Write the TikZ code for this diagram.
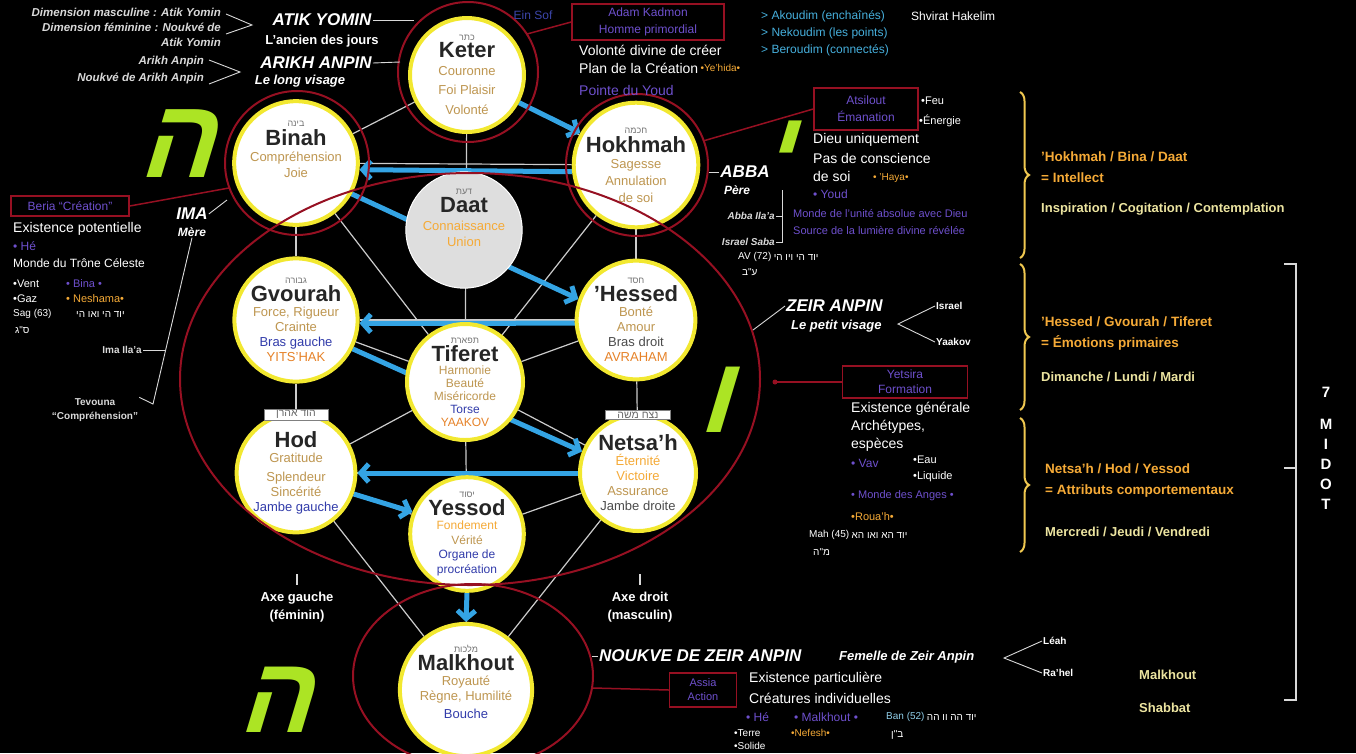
\documentclass[tikz,border=0pt]{standalone}
\usepackage{fontspec}
\setmainfont{Liberation Sans}
\newfontfamily\hebfont[Script=Hebrew]{Liberation Sans}
\newfontfamily\letterfont[Script=Hebrew]{Liberation Sans}
\TeXXeTstate=1
\usetikzlibrary{arrows.meta}
\usetikzlibrary{positioning}
\usetikzlibrary{decorations.pathreplacing}
\pgfdeclarelayer{back}
\pgfdeclarelayer{links}
\pgfsetlayers{back,links,main}

\definecolor{ringyellow}{RGB}{242,232,48}
\definecolor{innerkhaki}{RGB}{190,150,80}
\definecolor{ringred}{RGB}{150,16,34}
\definecolor{flashblue}{RGB}{52,164,228}
\definecolor{textviolet}{RGB}{110,80,205}
\definecolor{textcyan}{RGB}{70,175,220}
\definecolor{textorange}{RGB}{245,170,55}
\definecolor{bracegold}{RGB}{240,200,80}
\definecolor{lettergreen}{RGB}{172,228,36}
\definecolor{dayyellow}{RGB}{236,228,160}
\definecolor{armblue}{RGB}{50,60,170}
\definecolor{ancestor}{RGB}{230,130,40}
\definecolor{einsofblue}{RGB}{60,70,170}

\newcommand{\heb}[1]{{\hebfont\beginR#1\endR}}
\newcommand{\sefname}[1]{{\fontsize{22}{23}\selectfont\bfseries\color{black!85}#1}}
\newcommand{\hebtop}[1]{{\fontsize{9}{9}\selectfont\color{black!55}\heb{#1}}}

\tikzset{
  sefira/.style={circle, fill=white, draw=ringyellow, line width=4pt, minimum size=#1,
    inner sep=0pt, align=center, text=innerkhaki, font=\fontsize{13}{15}\selectfont},
  daatdisc/.style={circle, fill=black!13, draw=white, line width=1pt, minimum size=#1,
    inner sep=0pt, align=center, text=textorange, font=\fontsize{13}{15}\selectfont},
  hebtag/.style={fill=white, draw=black!50, line width=0.6pt, inner xsep=12pt, inner ysep=1.5pt,
    text=black!60, font=\fontsize{10.5}{10.5}\selectfont},
  treepath/.style={draw=white!80!black, line width=1.2pt},
  flash/.style={draw=flashblue, line width=5pt, -{Straight Barb[length=8pt,width=18pt]}},
  ring/.style={draw=ringred, line width=2pt},
  pointer/.style={draw=white!85!black, line width=0.9pt},
  worldbox/.style={draw=ringred, line width=1.5pt, text=textviolet, align=center,
    font=\fontsize{12}{17}\selectfont, inner sep=2pt},
  partzuf/.style={text=white, font=\fontsize{17}{18}\selectfont\bfseries\itshape, inner sep=1pt},
  partzufsub/.style={text=white, font=\fontsize{13}{14}\selectfont\bfseries\itshape, inner sep=1pt},
  note/.style={text=white, font=\fontsize{14}{16}\selectfont, inner sep=1pt, anchor=west},
  mini/.style={text=white, font=\fontsize{11}{12}\selectfont, inner sep=1pt, anchor=west},
  smallnote/.style={text=white!85!black, font=\fontsize{11.5}{15}\selectfont\bfseries\itshape, inner sep=1pt},
  midottitle/.style={text=textorange, font=\fontsize{13.5}{15}\selectfont\bfseries, inner sep=1pt, anchor=west},
  daytext/.style={text=dayyellow, font=\fontsize{13}{15}\selectfont\bfseries, inner sep=1pt, anchor=west},
  hebletter/.style={text=lettergreen, font=\letterfont\bfseries\fontsize{#1}{#1}\selectfont,
    inner sep=0pt, xslant=0.3, transform shape},
  midotbrace/.style={draw=bracegold, line width=2pt, decorate, decoration={brace, amplitude=9pt}}
}

\begin{document}
\begin{tikzpicture}[x=1pt,y=-1pt]
\useasboundingbox (0,0) rectangle (1356,753);
\begin{pgfonlayer}{back}
  \fill[black] (0,0) rectangle (1356,753);
\end{pgfonlayer}

% the sefirot
\node[sefira=114pt] (keter) at (467,75)
  {\hebtop{כתר}\\[1pt]\sefname{Keter}\\[3pt]Couronne\\[4pt]Foi Plaisir\\[5pt]Volonté};
\node[sefira=120pt] (binah) at (296,163)
  {\hebtop{בינה}\\[2pt]\sefname{Binah}\\[1pt]Compréhension\\[1pt]Joie\\[12pt]~};
\node[sefira=120pt] (hokhmah) at (636,165)
  {\hebtop{חכמה}\\[2pt]\sefname{Hokhmah}\\[1pt]Sagesse\\[2pt]Annulation\\[2pt]de soi};
\node[daatdisc=108pt] (daat) at (464,230)
  {\hebtop{דעת}\\[2pt]\sefname{Daat}\\[3pt]Connaissance\\[1pt]Union\\[10pt]~};
\node[sefira=116pt] (gvourah) at (296,320)
  {\hebtop{גבורה}\\[1pt]\sefname{Gvourah}\\Force, Rigueur\\Crainte\\{\color{armblue}Bras gauche}\\{\color{ancestor}YITS'HAK}};
\node[sefira=116pt] (hessed) at (636,320)
  {\hebtop{חסד}\\[1pt]\sefname{'Hessed}\\Bonté\\Amour\\{\color{black!70}Bras droit}\\{\color{ancestor}AVRAHAM}};
\node[sefira=116pt, font=\fontsize{12}{13}\selectfont] (tiferet) at (465,382)
  {\hebtop{תפארת}\\[1pt]\sefname{Tiferet}\\Harmonie\\Beauté\\Miséricorde\\{\color{armblue}Torse}\\{\color{ancestor}YAAKOV}};
\node[sefira=114pt] (hod) at (296,473)
  {\sefname{Hod}\\Gratitude\\[4pt]Splendeur\\Sincérité\\{\color{armblue}Jambe gauche}};
\node[sefira=116pt] (netsah) at (638,473)
  {\sefname{Netsa'h}\\{\color{textorange}Éternité}\\{\color{textorange}Victoire}\\Assurance\\{\color{black!70}Jambe droite}};
\node[sefira=110pt, font=\fontsize{12}{14.5}\selectfont] (yessod) at (467,534)
  {\hebtop{יסוד}\\[1pt]\sefname{Yessod}\\{\color{textorange}Fondement}\\Vérité\\{\color{armblue}Organe de}\\{\color{armblue}procréation}};
\node[sefira=120pt] (malkhout) at (466,690)
  {\hebtop{מלכות}\\[1pt]\sefname{Malkhout}\\Royauté\\Règne, Humilité\\[3pt]{\color{armblue}Bouche}\\[2pt]~};
\node[hebtag, below=-3pt of hod.north] (hodtag) {\heb{הוד אהרן}};
\node[hebtag, below=-3pt of netsah.north] (netsahtag) {\heb{נצח משה}};

% paths and lightning flash, behind the sefirot
\begin{pgfonlayer}{links}
  \foreach \a/\b in {keter/binah, keter/hokhmah, keter/tiferet, binah/hokhmah,
      binah/gvourah, hokhmah/hessed, binah/tiferet, hokhmah/tiferet, gvourah/hessed,
      gvourah/tiferet, hessed/tiferet, gvourah/hod, hessed/netsah, tiferet/hod,
      tiferet/netsah, tiferet/yessod, hod/netsah, hod/yessod, netsah/yessod,
      hod/malkhout, netsah/malkhout, yessod/malkhout}
    \draw[treepath] (\a) -- (\b);
  \draw[flash] (keter.-28) -- (hokhmah.150);
  \draw[flash] (hokhmah.186) -- (binah.354);
  \draw[flash] (binah.-29) -- (hessed.160);
  \draw[flash] (hessed.183) -- (gvourah.357);
  \draw[flash] (gvourah.-27) -- (netsah.159);
  \draw[flash] (netsah.west) -- (hod.east);
  \draw[flash] (hod.-20) -- (yessod.158);
  \draw[flash] (yessod.south) -- (malkhout.north);
\end{pgfonlayer}

% partzufim rings
\draw[ring] (468,72) circle[radius=70];
\draw[ring] (297,163) circle[radius=72];
\draw[ring] (637,165) circle[radius=71];
\draw[ring] (470,379) ellipse[x radius=290, y radius=206];
\draw[ring] (473,676) ellipse[x radius=120, y radius=92];

% the letters of the Name
\node[hebletter=112] (heupper) at (186,144) {\heb{ה}};
\node[hebletter=100] (yod) at (787,151) {\heb{י}};
\node[hebletter=108] (vav) at (724,400) {\heb{ו}};
\node[hebletter=108] (helower) at (284,700) {\heb{ה}};

% Atik Yomin and Arikh Anpin
\node[smallnote, align=right, anchor=east] (atikdims) at (222,27)
  {Dimension masculine : Atik Yomin\\Dimension féminine : Noukvé de\\Atik Yomin};
\node[partzuf] (atik) at (322,20) {ATIK YOMIN};
\node[partzufsub, font=\fontsize{13}{14}\selectfont\bfseries] (atiksub) at (322,41) {L'ancien des jours};
\node[smallnote, anchor=east] (arikhmale) at (205,62) {Arikh Anpin};
\node[smallnote, anchor=east] (arikhfemale) at (205,78) {Noukvé de Arikh Anpin};
\node[partzuf] (arikh) at (316,63) {ARIKH ANPIN};
\node[partzufsub] (arikhsub) at (300,81) {Le long visage};
\coordinate (atikfromA) at (226,14);
\coordinate (atikfromB) at (226,34);
\coordinate (atikjoin) at (252,25);
\coordinate (arikhfromA) at (209,60);
\coordinate (arikhfromB) at (209,84);
\coordinate (arikhjoin) at (240,72);
\coordinate (keterwestA) at (414,20);
\coordinate (keterwestB) at (400,62);
\draw[pointer] (atikfromA) -- (atikjoin) -- (atikfromB);
\draw[pointer] (arikhfromA) -- (arikhjoin) -- (arikhfromB);
\draw[pointer] (atik.east) -- (keterwestA);
\draw[pointer] (arikh.east) -- (keterwestB);

% Adam Kadmon and the worlds of Tohu
\node[text=einsofblue, font=\fontsize{12}{13}\selectfont] (einsof) at (533,15) {Ein Sof};
\node[worldbox, minimum width=152pt, minimum height=36pt] (kadmon) at (648,22) {Adam Kadmon\\Homme primordial};
\coordinate (keterhook) at (527,34);
\draw[ring, line width=1.5pt] (keterhook) -- (kadmon.west);
\node[note] (volonte) at (578,50) {Volonté divine de créer};
\node[note] (plan) at (578,68) {Plan de la Création};
\node[mini, text=textorange, font=\fontsize{10}{11}\selectfont] (yehida) at (plan.east) {•Ye'hida•};
\node[note, text=textviolet] (pointe) at (578,90) {Pointe du Youd};
\node[note, text=textcyan, font=\fontsize{12}{13}\selectfont] (akoudim) at (760,16) {> Akoudim (enchaînés)};
\node[note, text=textcyan, font=\fontsize{12}{13}\selectfont] (nekoudim) at (760,33) {> Nekoudim (les points)};
\node[note, text=textcyan, font=\fontsize{12}{13}\selectfont] (beroudim) at (760,50) {> Beroudim (connectés)};
\node[note, font=\fontsize{12}{13}\selectfont] (shvirat) at (910,16) {Shvirat Hakelim};

% Abba and the world of Atsilout
\node[worldbox, minimum width=104pt, minimum height=42pt] (atsilout) at (866,109) {Atsilout\\Émanation};
\coordinate (hokhmahhook) at (703,141);
\draw[ring, line width=1.5pt] (hokhmahhook) -- (atsilout.west);
\node[mini] (feu) at (920,101) {•Feu};
\node[mini] (energie) at (918,121) {•Énergie};
\node[note] (dieu) at (812,140) {Dieu uniquement};
\node[note] (conscience) at (812,158) {Pas de conscience};
\node[note] (desoi) at (812,176) {de soi};
\node[mini, text=textorange, font=\fontsize{10}{11}\selectfont] (haya) at (872,178) {• 'Haya•};
\node[note, text=textviolet, font=\fontsize{12}{13}\selectfont] (youd) at (812,194) {• Youd};
\node[mini, text=textviolet, align=left, font=\fontsize{11}{17}\selectfont] (atsdesc) at (792,222)
  {Monde de l'unité absolue avec Dieu\\Source de la lumière divine révélée};
\node[partzuf] (abba) at (745,172) {ABBA};
\node[partzufsub, font=\fontsize{12}{13}\selectfont\bfseries\itshape] (pere) at (737,190) {Père};
\coordinate (hokhmaheast) at (709,172);
\draw[pointer] (hokhmaheast) -- (abba.west);
\node[smallnote, anchor=east, font=\fontsize{10}{11}\selectfont\bfseries\itshape] (abbailaa) at (776,216) {Abba Ila'a};
\node[smallnote, anchor=east, font=\fontsize{10}{11}\selectfont\bfseries\itshape] (israelsaba) at (776,242) {Israel Saba};
\coordinate (abbabar) at (782,190);
\coordinate (abbabarend) at (782,242);
\draw[pointer] (abbabar) -- (abbabarend) -- (israelsaba.east);
\draw[pointer] (abbailaa.east) -- (abbabar |- abbailaa.east);
\node[mini, font=\fontsize{10}{11}\selectfont] (av) at (737,257) {AV (72)};
\node[mini, font=\fontsize{10}{11}\selectfont] (avname) at (av.east) {\heb{יוד הי ויו הי}};
\node[mini, font=\fontsize{10}{11}\selectfont] (avnum) at (741,272) {\heb{ע"ב}};

% Ima and the world of Beria
\node[worldbox, minimum width=118pt, minimum height=20pt, font=\fontsize{12}{13}\selectfont] (beria) at (70,206) {Beria ``Création''};
\coordinate (binahhook) at (229,188);
\draw[ring, line width=1.5pt] (beria.east) -- (binahhook);
\node[note] (potentielle) at (12,229) {Existence potentielle};
\node[note, text=textviolet, font=\fontsize{12}{13}\selectfont] (hebinah) at (12,246) {• Hé};
\node[note, font=\fontsize{12}{13}\selectfont] (trone) at (12,263) {Monde du Trône Céleste};
\node[mini] (vent) at (12,284) {•Vent};
\node[mini] (gaz) at (12,299) {•Gaz};
\node[mini, text=textviolet] (binahsoul) at (65,284) {• Bina •};
\node[mini, text=textorange] (neshama) at (65,299) {• Neshama•};
\node[mini, font=\fontsize{10}{11}\selectfont] (sag) at (12,314) {Sag (63)};
\node[mini, font=\fontsize{10}{11}\selectfont] (sagname) at (75,314) {\heb{יוד הי ואו הי}};
\node[mini, font=\fontsize{10}{11}\selectfont] (sagnum) at (14,330) {\heb{ס"ג}};
\node[partzuf] (ima) at (192,214) {IMA};
\node[partzufsub, font=\fontsize{12}{13}\selectfont\bfseries\itshape] (mere) at (192,232) {Mère};
\node[smallnote, anchor=east, font=\fontsize{10}{11}\selectfont\bfseries] (imailaa) at (143,350) {Ima Ila'a};
\node[smallnote, align=center, font=\fontsize{10}{14}\selectfont\bfseries] (tevouna) at (95,410) {Tevouna\\``Compréhension''};
\coordinate (imafoot) at (153,404);
\coordinate (imaknee) at (166,350);
\coordinate (binahwest) at (227,200);
\draw[pointer] (mere.south) -- (imafoot) -- (tevouna.north east);
\draw[pointer] (imailaa.east) -- (imaknee);
\draw[pointer] (ima.east) -- (binahwest);

% Zeir Anpin and the world of Yetsira
\coordinate (zeirhook) at (753,330);
\node[partzuf, anchor=west] (zeir) at (785,306) {ZEIR ANPIN};
\node[partzufsub, anchor=west] (zeirsub) at (790,326) {Le petit visage};
\draw[pointer] (zeirhook) -- (zeir.west);
\node[mini, font=\fontsize{10}{11}\selectfont\bfseries] (israel) at (935,306) {Israel};
\node[mini, font=\fontsize{10}{11}\selectfont\bfseries] (yaakov) at (935,342) {Yaakov};
\coordinate (zeirjoin) at (898,324);
\draw[pointer] (israel.west) -- (zeirjoin) -- (yaakov.west);
\node[worldbox, minimum width=125pt, minimum height=32pt, font=\fontsize{12}{15}\selectfont] (yetsira) at (905,382) {Yetsira\\Formation};
\coordinate (ellipsehook) at (775,382);
\fill[ringred] (ellipsehook) circle[radius=2.5];
\draw[ring, line width=1.2pt] (ellipsehook) -- (yetsira.west);
\node[note] (generale) at (850,409) {Existence générale};
\node[note] (archetypes) at (850,427) {Archétypes,};
\node[note] (especes) at (850,445) {espèces};
\node[note, text=textviolet, font=\fontsize{12}{13}\selectfont] (vavletter) at (850,463) {• Vav};
\node[mini] (eau) at (912,460) {•Eau};
\node[mini] (liquide) at (912,477) {•Liquide};
\node[mini, text=textviolet] (anges) at (850,496) {• Monde des Anges •};
\node[mini, text=textorange] (rouah) at (850,517) {•Roua'h•};
\node[mini, font=\fontsize{10}{11}\selectfont] (mah) at (808,535) {Mah (45)};
\node[mini, font=\fontsize{10}{11}\selectfont] (mahname) at (mah.east) {\heb{יוד הא ואו הא}};
\node[mini, font=\fontsize{10}{11}\selectfont] (mahnum) at (812,552) {\heb{מ"ה}};

% the two axes
\node[text=white, align=center, font=\fontsize{13}{18}\selectfont\bfseries] (leftaxis) at (297,607) {Axe gauche\\(féminin)};
\node[text=white, align=center, font=\fontsize{13}{18}\selectfont\bfseries] (rightaxis) at (640,607) {Axe droit\\(masculin)};
\coordinate (leftaxistop) at (297,574);
\coordinate (rightaxistop) at (640,574);
\draw[pointer, line width=2pt] (leftaxistop) -- ([yshift=3pt]leftaxis.north);
\draw[pointer, line width=2pt] (rightaxistop) -- ([yshift=3pt]rightaxis.north);

% Noukve de Zeir Anpin and the world of Assia
\coordinate (noukvehook) at (592,656);
\node[partzuf, anchor=west] (noukve) at (598,656) {NOUKVE DE ZEIR ANPIN};
\draw[pointer] (noukvehook) -- (noukve.west);
\node[partzufsub, anchor=west] (femelle) at (838,657) {Femelle de Zeir Anpin};
\node[mini, font=\fontsize{10}{11}\selectfont\bfseries] (leah) at (1042,641) {Léah};
\node[mini, font=\fontsize{10}{11}\selectfont\bfseries] (rahel) at (1042,673) {Ra'hel};
\coordinate (noukvejoin) at (1004,658);
\draw[pointer] (leah.west) -- (noukvejoin) -- (rahel.west);
\node[worldbox, minimum width=67pt, minimum height=34pt, font=\fontsize{11}{14}\selectfont] (assia) at (703,690) {Assia\\Action};
\coordinate (malkhouthook) at (593,688);
\draw[ring, line width=1.5pt] (malkhouthook) -- (assia.west);
\node[note] (particuliere) at (748,679) {Existence particulière};
\node[note] (creatures) at (748,698) {Créatures individuelles};
\node[note, text=textviolet, font=\fontsize{12}{13}\selectfont] (hemalkhout) at (745,717) {• Hé};
\node[note, text=textviolet, font=\fontsize{12}{13}\selectfont] (malkhoutsoul) at (793,717) {• Malkhout •};
\node[mini, text=textcyan!60!white, font=\fontsize{10}{11}\selectfont] (ban) at (885,717) {Ban (52)};
\node[mini, font=\fontsize{10}{11}\selectfont] (banname) at (ban.east) {\heb{יוד הה וו הה}};
\node[mini, font=\fontsize{10}{11}\selectfont] (bannum) at (890,735) {\heb{ב"ן}};
\node[mini, font=\fontsize{10}{11}\selectfont] (terre) at (733,733) {•Terre};
\node[mini, font=\fontsize{10}{11}\selectfont] (solide) at (733,746) {•Solide};
\node[mini, text=textorange, font=\fontsize{10}{11}\selectfont] (nefesh) at (790,733) {•Nefesh•};

% the three triads
\coordinate (braceAtop) at (1020,92);
\coordinate (braceAbot) at (1020,258);
\coordinate (braceBtop) at (1020,264);
\coordinate (braceBbot) at (1020,410);
\coordinate (braceCtop) at (1020,418);
\coordinate (braceCbot) at (1020,552);
\draw[midotbrace] (braceAtop) -- (braceAbot);
\draw[midotbrace] (braceBtop) -- (braceBbot);
\draw[midotbrace] (braceCtop) -- (braceCbot);
\node[midottitle] (intellect) at (1040,157) {'Hokhmah / Bina / Daat};
\node[midottitle] (intellect2) at (1040,178) {= Intellect};
\node[daytext] (inspiration) at (1040,209) {Inspiration / Cogitation / Contemplation};
\node[midottitle] (emotions) at (1040,322) {'Hessed / Gvourah / Tiferet};
\node[midottitle] (emotions2) at (1040,343) {= Émotions primaires};
\node[daytext] (firstdays) at (1040,377) {Dimanche / Lundi / Mardi};
\node[midottitle] (attributs) at (1044,469) {Netsa'h / Hod / Yessod};
\node[midottitle] (attributs2) at (1044,491) {= Attributs comportementaux};
\node[daytext] (lastdays) at (1044,532) {Mercredi / Jeudi / Vendredi};
\node[daytext] (malkhoutday) at (1138,675) {Malkhout};
\node[daytext] (shabbat) at (1138,708) {Shabbat};

% the seven midot
\coordinate (midottop) at (1284,264);
\coordinate (midotbot) at (1284,700);
\coordinate (midotmid) at (1284,468);
\draw[pointer, line width=1.5pt] (midottop) -- (1296,264) -- (1296,700) -- (midotbot);
\draw[pointer, line width=1.5pt] (midotmid) -- (1296,468);
\node[text=white, align=center, font=\fontsize{15}{20}\selectfont\bfseries] (midot) at (1326,448)
  {7\\[12pt]M\\I\\D\\O\\T};
\end{tikzpicture}
\end{document}
